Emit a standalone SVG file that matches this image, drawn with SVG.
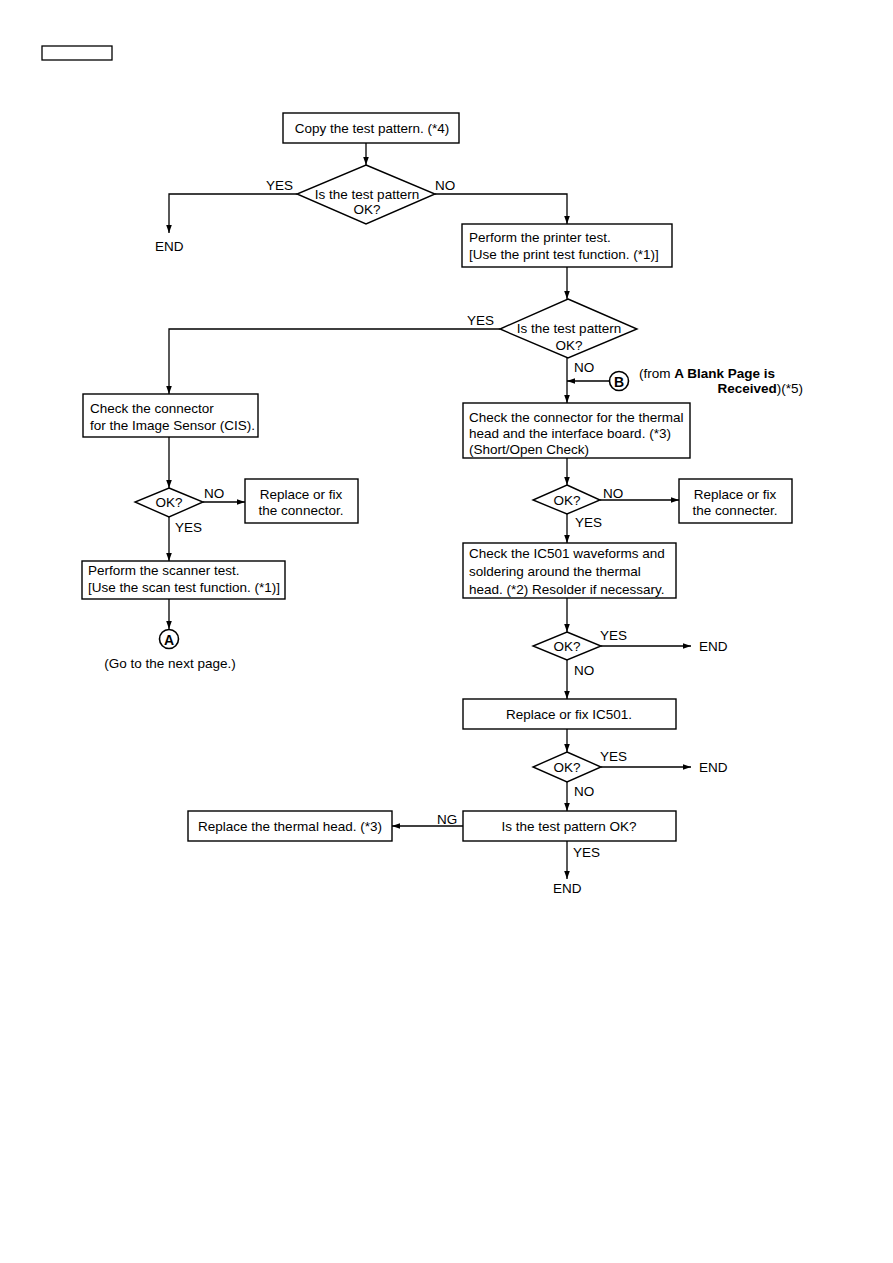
<svg xmlns="http://www.w3.org/2000/svg" width="893" height="1263" viewBox="0 0 893 1263">
<style>
.b{fill:#fff;stroke:#000;stroke-width:1.4}
.l{fill:none;stroke:#000;stroke-width:1.3}
text{font-family:"Liberation Sans",Arial,sans-serif;font-size:13.5px;fill:#000}
.c{text-anchor:middle}
.bold{font-weight:bold}
</style>
<defs>
<marker id="ah" viewBox="0 0 10 10" refX="10" refY="5" markerWidth="8" markerHeight="8" markerUnits="userSpaceOnUse" orient="auto">
<path d="M0,1.5 L10,5 L0,8.5 z" fill="#000"/>
</marker>
</defs>
<rect x="42" y="46" width="70" height="14" fill="#fff" stroke="#000" stroke-width="1.3"/>
<g id="connectors">
<path class="l" d="M366,143 V165" marker-end="url(#ah)"/>
<path class="l" d="M297,194 H169 V233" marker-end="url(#ah)"/>
<path class="l" d="M435,194 H567 V224" marker-end="url(#ah)"/>
<path class="l" d="M567,267 V299" marker-end="url(#ah)"/>
<path class="l" d="M500,329 H169 V394" marker-end="url(#ah)"/>
<path class="l" d="M567,358 V403" marker-end="url(#ah)"/>
<path class="l" d="M609,381 H567" marker-end="url(#ah)"/>
<path class="l" d="M169,437 V488" marker-end="url(#ah)"/>
<path class="l" d="M203,502 H245" marker-end="url(#ah)"/>
<path class="l" d="M169,517 V561" marker-end="url(#ah)"/>
<path class="l" d="M169,599 V629" marker-end="url(#ah)"/>
<path class="l" d="M567,458 V485" marker-end="url(#ah)"/>
<path class="l" d="M600,500 H679" marker-end="url(#ah)"/>
<path class="l" d="M567,514 V543" marker-end="url(#ah)"/>
<path class="l" d="M567,598 V632" marker-end="url(#ah)"/>
<path class="l" d="M601,646 H691" marker-end="url(#ah)"/>
<path class="l" d="M567,660 V699" marker-end="url(#ah)"/>
<path class="l" d="M567,729 V752" marker-end="url(#ah)"/>
<path class="l" d="M601,767 H691" marker-end="url(#ah)"/>
<path class="l" d="M567,782 V811" marker-end="url(#ah)"/>
<path class="l" d="M463,826 H392" marker-end="url(#ah)"/>
<path class="l" d="M567,841 V879" marker-end="url(#ah)"/>
<text x="266" y="190">YES</text>
<text x="435" y="190">NO</text>
<text x="467" y="325">YES</text>
<text x="574" y="372">NO</text>
<text x="204" y="498">NO</text>
<text x="175" y="532">YES</text>
<text x="603" y="498">NO</text>
<text x="575" y="527">YES</text>
<text x="600" y="640">YES</text>
<text x="574" y="675">NO</text>
<text x="600" y="761">YES</text>
<text x="574" y="796">NO</text>
<text x="437" y="824">NG</text>
<text x="573" y="857">YES</text>
</g>
<g id="n-copy"><rect class="b" x="283" y="113" width="176" height="30"/><text class="c" x="372" y="133">Copy the test pattern. (*4)</text></g>
<g id="d-test1"><polygon class="b" points="366,165 435,194 366,224 297,194"/><text class="c" x="367" y="199">Is the test pattern</text><text class="c" x="367" y="214">OK?</text></g>
<g id="end1"><text x="155" y="251">END</text></g>
<g id="n-printer"><rect class="b" x="462" y="224" width="210" height="43"/><text x="469" y="242">Perform the printer test.</text><text x="469" y="259">[Use the print test function. (*1)]</text></g>
<g id="d-test2"><polygon class="b" points="568,299 637,329 568,358 500,329"/><text class="c" x="569" y="333">Is the test pattern</text><text class="c" x="569" y="350">OK?</text></g>
<g id="conn-b"><circle cx="619" cy="381" r="9.5" fill="#fff" stroke="#000" stroke-width="1.6"/><text class="c bold" x="619" y="386.5" style="font-size:14px">B</text>
<text x="639" y="378">(from <tspan class="bold">A Blank Page is</tspan></text>
<text x="803" y="393" text-anchor="end"><tspan class="bold">Received</tspan>)(*5)</text></g>
<g id="n-cis"><rect class="b" x="83" y="394" width="175" height="43"/><text x="90" y="413">Check the connector</text><text x="90" y="430">for the Image Sensor (CIS).</text></g>
<g id="d-ok1"><polygon class="b" points="169,488 203,502 169,517 135,502"/><text class="c" x="169" y="507">OK?</text></g>
<g id="n-fix1"><rect class="b" x="245" y="479" width="113" height="44"/><text class="c" x="301" y="499">Replace or fix</text><text class="c" x="301" y="515">the connector.</text></g>
<g id="n-scanner"><rect class="b" x="82" y="561" width="203" height="38"/><text x="88" y="575">Perform the scanner test.</text><text x="88" y="592">[Use the scan test function. (*1)]</text></g>
<g id="conn-a"><circle cx="169" cy="639" r="9.5" fill="#fff" stroke="#000" stroke-width="1.6"/><text class="c bold" x="169" y="644.5" style="font-size:14px">A</text><text class="c" x="170" y="668">(Go to the next page.)</text></g>
<g id="n-thermal"><rect class="b" x="463" y="403" width="227" height="55"/><text x="469" y="422">Check the connector for the thermal</text><text x="469" y="438">head and the interface board. (*3)</text><text x="469" y="454">(Short/Open Check)</text></g>
<g id="d-ok2"><polygon class="b" points="567,485 600,500 567,514 533,500"/><text class="c" x="567" y="505">OK?</text></g>
<g id="n-fix2"><rect class="b" x="679" y="479" width="113" height="44"/><text class="c" x="735" y="499">Replace or fix</text><text class="c" x="735" y="515">the connecter.</text></g>
<g id="n-ic501"><rect class="b" x="463" y="543" width="213" height="55"/><text x="469" y="558">Check the IC501 waveforms and</text><text x="469" y="576">soldering around the thermal</text><text x="469" y="594">head. (*2) Resolder if necessary.</text></g>
<g id="d-ok3"><polygon class="b" points="567,632 601,646 567,660 533,646"/><text class="c" x="567" y="651">OK?</text></g>
<g id="end2"><text x="699" y="651">END</text></g>
<g id="n-fixic"><rect class="b" x="463" y="699" width="213" height="30"/><text class="c" x="569" y="719">Replace or fix IC501.</text></g>
<g id="d-ok4"><polygon class="b" points="567,752 601,767 567,782 533,767"/><text class="c" x="567" y="772">OK?</text></g>
<g id="end3"><text x="699" y="772">END</text></g>
<g id="n-final"><rect class="b" x="463" y="811" width="213" height="30"/><text class="c" x="569" y="831">Is the test pattern OK?</text></g>
<g id="n-head"><rect class="b" x="188" y="811" width="204" height="30"/><text class="c" x="290" y="831">Replace the thermal head. (*3)</text></g>
<g id="end4"><text x="553" y="893">END</text></g>
</svg>
